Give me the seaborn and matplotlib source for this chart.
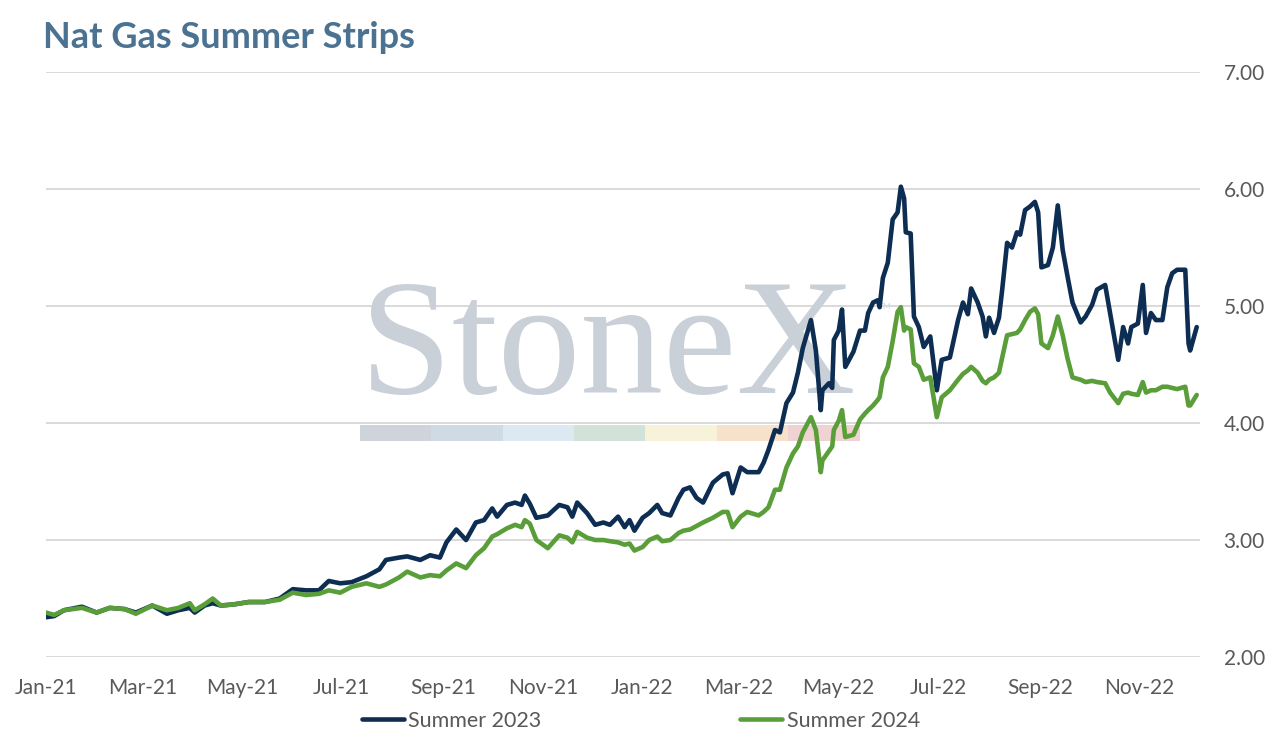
import pandas as pd
import matplotlib
matplotlib.use("Agg")
import matplotlib.pyplot as plt
import matplotlib.dates as mdates
from matplotlib.patches import Rectangle
import seaborn as sns

# values ($/MMBtu)
dates = [
    "2021-01-01", "2021-01-06", "2021-01-12", "2021-01-23", "2021-02-01", "2021-02-09",
    "2021-02-18", "2021-02-25", "2021-03-07", "2021-03-16", "2021-03-23", "2021-03-30",
    "2021-04-02", "2021-04-08", "2021-04-13", "2021-04-18", "2021-04-26", "2021-05-05",
    "2021-05-15", "2021-05-24", "2021-06-01", "2021-06-09", "2021-06-17", "2021-06-23",
    "2021-06-30", "2021-07-07", "2021-07-16", "2021-07-24", "2021-07-28", "2021-08-05",
    "2021-08-10", "2021-08-18", "2021-08-24", "2021-08-30", "2021-09-03", "2021-09-09",
    "2021-09-15", "2021-09-21", "2021-09-26", "2021-10-01", "2021-10-04", "2021-10-10",
    "2021-10-15", "2021-10-19", "2021-10-21", "2021-10-24", "2021-10-28", "2021-11-04",
    "2021-11-11", "2021-11-16", "2021-11-19", "2021-11-22", "2021-11-28", "2021-12-03",
    "2021-12-08", "2021-12-12", "2021-12-17", "2021-12-21", "2021-12-24", "2021-12-27",
    "2022-01-01", "2022-01-05", "2022-01-10", "2022-01-13", "2022-01-18", "2022-01-23",
    "2022-01-26", "2022-01-30", "2022-02-03", "2022-02-07", "2022-02-13", "2022-02-19",
    "2022-02-22", "2022-02-25", "2022-03-02", "2022-03-06", "2022-03-13", "2022-03-16",
    "2022-03-19", "2022-03-23", "2022-03-26", "2022-03-30", "2022-04-03", "2022-04-06",
    "2022-04-09", "2022-04-14", "2022-04-17", "2022-04-20", "2022-04-21", "2022-04-25",
    "2022-04-27", "2022-04-28", "2022-05-01", "2022-05-03", "2022-05-05", "2022-05-10",
    "2022-05-14", "2022-05-17", "2022-05-19", "2022-05-22", "2022-05-25", "2022-05-26",
    "2022-05-28", "2022-05-31", "2022-06-03", "2022-06-06", "2022-06-08", "2022-06-10",
    "2022-06-11", "2022-06-14", "2022-06-16", "2022-06-19", "2022-06-22", "2022-06-26",
    "2022-06-30", "2022-07-03", "2022-07-08", "2022-07-13", "2022-07-16", "2022-07-19",
    "2022-07-21", "2022-07-25", "2022-07-28", "2022-07-30", "2022-08-01", "2022-08-04",
    "2022-08-07", "2022-08-09", "2022-08-12", "2022-08-15", "2022-08-18", "2022-08-20",
    "2022-08-23", "2022-08-26", "2022-08-29", "2022-08-31", "2022-09-02", "2022-09-06",
    "2022-09-09", "2022-09-12", "2022-09-15", "2022-09-18", "2022-09-21", "2022-09-26",
    "2022-09-29", "2022-10-03", "2022-10-06", "2022-10-11", "2022-10-14", "2022-10-19",
    "2022-10-22", "2022-10-25", "2022-10-27", "2022-10-31", "2022-11-03", "2022-11-05",
    "2022-11-08", "2022-11-11", "2022-11-15", "2022-11-18", "2022-11-21", "2022-11-24",
    "2022-11-29", "2022-12-01", "2022-12-02", "2022-12-06",
]

summer_2023 = [
    2.34, 2.35, 2.40, 2.43, 2.38, 2.42, 2.41, 2.38, 2.44, 2.37, 2.40, 2.42,
    2.38, 2.44, 2.46, 2.44, 2.45, 2.47, 2.47, 2.50, 2.58, 2.57, 2.57, 2.65,
    2.63, 2.64, 2.69, 2.75, 2.83, 2.85, 2.86, 2.83, 2.87, 2.85, 2.98, 3.09,
    3.00, 3.15, 3.17, 3.27, 3.20, 3.30, 3.32, 3.30, 3.38, 3.31, 3.19, 3.21,
    3.30, 3.28, 3.20, 3.32, 3.23, 3.13, 3.15, 3.13, 3.20, 3.11, 3.17, 3.08,
    3.19, 3.23, 3.30, 3.23, 3.21, 3.36, 3.43, 3.45, 3.36, 3.32, 3.49, 3.56,
    3.57, 3.40, 3.62, 3.58, 3.58, 3.66, 3.77, 3.94, 3.92, 4.17, 4.26, 4.43,
    4.64, 4.88, 4.62, 4.11, 4.28, 4.34, 4.30, 4.71, 4.79, 4.97, 4.48, 4.61,
    4.79, 4.79, 4.94, 5.03, 5.05, 4.99, 5.24, 5.37, 5.74, 5.80, 6.02, 5.92,
    5.63, 5.62, 4.91, 4.82, 4.65, 4.74, 4.28, 4.54, 4.56, 4.88, 5.03, 4.93,
    5.15, 5.03, 4.91, 4.74, 4.90, 4.77, 4.90, 5.14, 5.54, 5.50, 5.63, 5.61,
    5.82, 5.85, 5.89, 5.80, 5.33, 5.35, 5.50, 5.86, 5.48, 5.25, 5.03, 4.86,
    4.91, 5.01, 5.14, 5.18, 4.94, 4.54, 4.82, 4.68, 4.82, 4.85, 5.18, 4.77,
    4.94, 4.88, 4.88, 5.16, 5.28, 5.31, 5.31, 4.68, 4.62, 4.82,
]

summer_2024 = [
    2.38, 2.36, 2.40, 2.42, 2.38, 2.42, 2.41, 2.37, 2.44, 2.40, 2.42, 2.46,
    2.40, 2.45, 2.50, 2.44, 2.45, 2.47, 2.47, 2.49, 2.55, 2.53, 2.54, 2.57,
    2.55, 2.60, 2.63, 2.60, 2.62, 2.68, 2.73, 2.68, 2.70, 2.69, 2.74, 2.80,
    2.76, 2.87, 2.93, 3.03, 3.05, 3.10, 3.13, 3.11, 3.17, 3.14, 3.00, 2.93,
    3.04, 3.02, 2.98, 3.07, 3.02, 3.00, 3.00, 2.99, 2.98, 2.96, 2.97, 2.91,
    2.94, 3.00, 3.03, 2.99, 3.00, 3.06, 3.08, 3.09, 3.12, 3.15, 3.19, 3.24,
    3.24, 3.11, 3.20, 3.24, 3.21, 3.24, 3.28, 3.43, 3.43, 3.62, 3.74, 3.80,
    3.92, 4.05, 3.94, 3.58, 3.68, 3.76, 3.80, 3.94, 4.02, 4.11, 3.88, 3.90,
    4.03, 4.08, 4.11, 4.15, 4.20, 4.22, 4.39, 4.48, 4.70, 4.95, 4.99, 4.79,
    4.82, 4.80, 4.51, 4.48, 4.37, 4.39, 4.05, 4.22, 4.28, 4.37, 4.42, 4.45,
    4.48, 4.43, 4.36, 4.34, 4.37, 4.39, 4.43, 4.56, 4.75, 4.76, 4.77, 4.80,
    4.88, 4.95, 4.98, 4.93, 4.68, 4.64, 4.75, 4.91, 4.75, 4.55, 4.39, 4.37,
    4.35, 4.36, 4.35, 4.34, 4.26, 4.17, 4.25, 4.26, 4.25, 4.24, 4.35, 4.26,
    4.28, 4.28, 4.31, 4.31, 4.30, 4.29, 4.31, 4.15, 4.15, 4.24,
]

series_names = ["Summer 2023", "Summer 2024"]
colors = ["#0d2e52", "#5a9e3a"]
y_ticks = [2, 3, 4, 5, 6, 7]

df = pd.DataFrame({"date": pd.to_datetime(dates),
                   series_names[0]: summer_2023,
                   series_names[1]: summer_2024})
long_df = df.melt(id_vars="date", var_name="series", value_name="price")

sns.set_style("white")
plt.rcParams["font.family"] = ["Lato", "DejaVu Sans"]

fig = plt.figure(figsize=(12.74, 7.44), dpi=100)
ax = fig.add_axes([0.0361, 0.1169, 0.9058, 0.7863])
ax.set_facecolor("none")

# StoneX watermark
ax.text(0.487, 0.452, "StoneX", transform=ax.transAxes, ha="center", va="baseline",
        fontsize=119, family="Liberation Serif", color="#c9d0d8", zorder=1)
ax.text(0.722, 0.60, "TM", transform=ax.transAxes, ha="left", va="center",
        fontsize=6, color="#d6dbe1", zorder=1)
band = ["#cfd4db", "#cfdae5", "#dce8f2", "#d2e2d9", "#f6f3da", "#f6e1cb", "#f1d2d2"]
bw = (0.705 - 0.272) / len(band)
for i, c in enumerate(band):
    ax.add_patch(Rectangle((0.272 + i * bw, 0.369), bw, 0.028, transform=ax.transAxes,
                           facecolor=c, edgecolor="none", zorder=1))

sns.lineplot(data=long_df, x="date", y="price", hue="series", palette=colors,
             linewidth=3.3, ax=ax, zorder=3)

ax.set_ylim(2, 7)
ax.set_yticks(y_ticks)
ax.set_yticklabels([f"{t:.2f}" for t in y_ticks])
ax.yaxis.tick_right()
ax.set_xlim(pd.Timestamp("2021-01-01"), pd.Timestamp("2022-12-08"))
ax.xaxis.set_major_locator(mdates.MonthLocator(bymonth=[1, 3, 5, 7, 9, 11]))
ax.xaxis.set_major_formatter(mdates.DateFormatter("%b-%y"))
ax.grid(axis="y", color="#d9d9d9", linewidth=1.4, zorder=0)
ax.grid(axis="x", visible=False)
ax.set_axisbelow(True)
for s in ax.spines.values():
    s.set_visible(False)
ax.tick_params(axis="both", length=0, labelsize=15, labelcolor="#595959")
ax.tick_params(axis="x", pad=15)
ax.tick_params(axis="y", pad=17)
ax.set_xlabel("")
ax.set_ylabel("")

handles, labels = ax.get_legend_handles_labels()
ax.get_legend().remove()
leg = fig.legend(handles, labels, loc="center", bbox_to_anchor=(0.503, 0.031), ncol=2,
                 frameon=False, fontsize=15.5, handlelength=1.95, handletextpad=0.2,
                 columnspacing=9.25)
for t in leg.get_texts():
    t.set_color("#595959")
for h in leg.legend_handles:
    h.set_linewidth(3.3)

fig.text(0.034, 0.950, "Nat Gas Summer Strips", fontsize=26, fontweight="bold",
         color="#4b7391", ha="left", va="center")

fig.savefig("out.png", dpi=100)
